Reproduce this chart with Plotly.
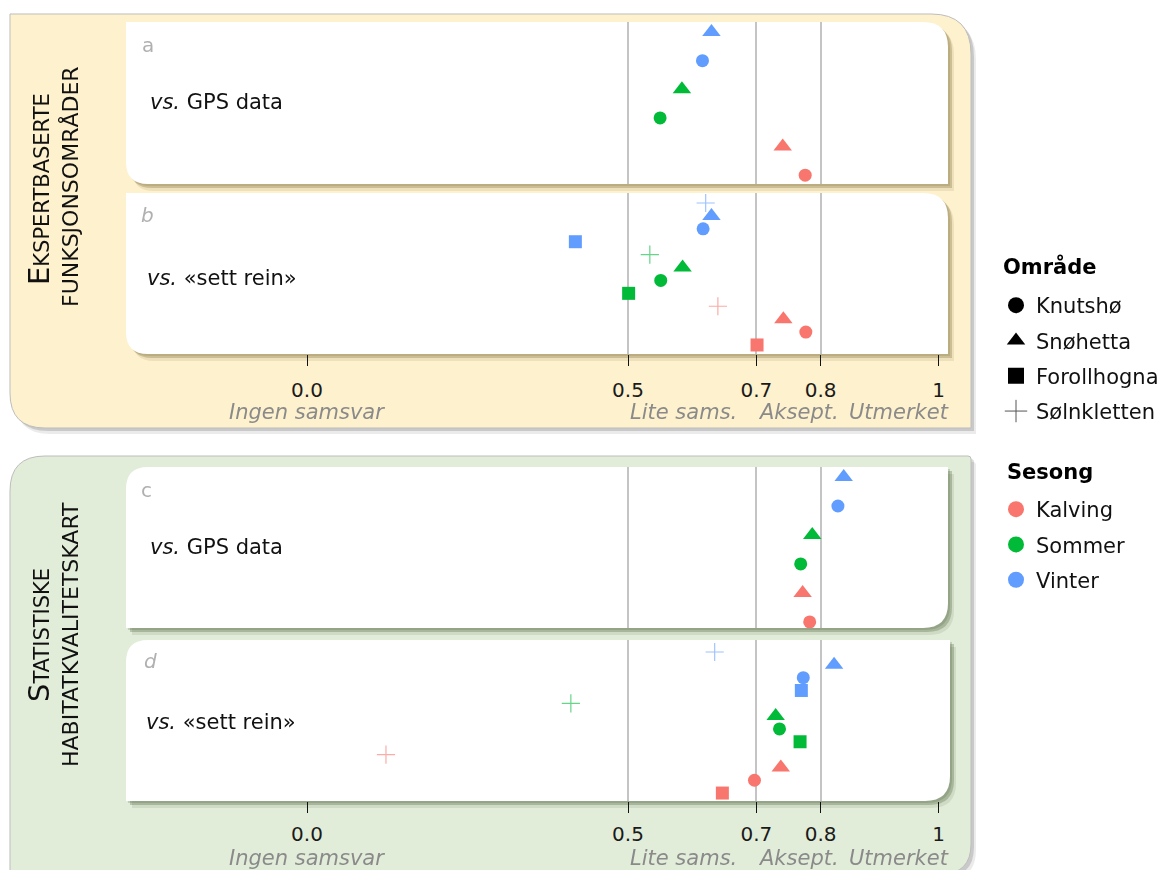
import plotly.graph_objects as go

W, H = 1172, 870

# ---------------- data ----------------
seasons_6 = ["Vinter", "Vinter", "Sommer", "Sommer", "Kalving", "Kalving"]
areas_6 = ["Snøhetta", "Knutshø", "Snøhetta", "Knutshø", "Snøhetta", "Knutshø"]

seasons_12 = ["Vinter", "Vinter", "Vinter", "Vinter",
              "Sommer", "Sommer", "Sommer", "Sommer",
              "Kalving", "Kalving", "Kalving", "Kalving"]
areas_12 = ["Sølnkletten", "Snøhetta", "Knutshø", "Forollhogna",
            "Sølnkletten", "Snøhetta", "Knutshø", "Forollhogna",
            "Sølnkletten", "Snøhetta", "Knutshø", "Forollhogna"]

val_a = [0.630, 0.616, 0.584, 0.550, 0.741, 0.776]
val_b = [0.621, 0.630, 0.617, 0.418, 0.534, 0.585, 0.551, 0.501, 0.640, 0.742, 0.777, 0.701]
val_c = [0.836, 0.827, 0.787, 0.769, 0.772, 0.783]
val_d = [0.635, 0.821, 0.773, 0.770, 0.411, 0.730, 0.736, 0.768, 0.123, 0.738, 0.697, 0.647]

tick_vals = [0, 0.5, 0.7, 0.8, 0.984]
tick_text = ["0.0", "0.5", "0.7", "0.8", "1"]
grid_vals = [0.5, 0.7, 0.8]
class_labels = ["Ingen samsvar", "Lite sams.", "Aksept.", "Utmerket"]
class_pos = [0, 0.5, 0.7, 0.997]

area_order = ["Knutshø", "Snøhetta", "Forollhogna", "Sølnkletten"]
season_order = ["Kalving", "Sommer", "Vinter"]

# ---------------- styles ----------------
FONT = "DejaVu Sans"
season_colors = {"Kalving": "#F8766D", "Sommer": "#00BA38", "Vinter": "#619CFF"}
area_symbols = {"Knutshø": "circle", "Snøhetta": "triangle-up",
                "Forollhogna": "square", "Sølnkletten": "cross-thin"}
area_sizes = {"Knutshø": 13, "Snøhetta": 16, "Forollhogna": 13, "Sølnkletten": 13}


def px(x):
    return x / W


def py(y):
    return 1 - y / H


def rrect(x0, y0, x1, y1, tl, tr, br, bl):
    def P(x, y):
        return f"{px(x):.5f},{py(y):.5f}"
    s = f"M {P(x0 + tl, y0)} L {P(x1 - tr, y0)} Q {P(x1, y0)} {P(x1, y0 + tr)} "
    s += f"L {P(x1, y1 - br)} Q {P(x1, y1)} {P(x1 - br, y1)} "
    s += f"L {P(x0 + bl, y1)} Q {P(x0, y1)} {P(x0, y1 - bl)} "
    s += f"L {P(x0, y0 + tl)} Q {P(x0, y0)} {P(x0 + tl, y0)} Z"
    return s


shapes = []


def add_box(box, fill, line=None, shadows=()):
    x0, y0, x1, y1, tl, tr, br, bl = box
    for (dx, dy, col) in shadows:
        shapes.append(dict(type="path", xref="paper", yref="paper", layer="below",
                           path=rrect(x0 + dx, y0 + dy, x1 + dx, y1 + dy, tl, tr, br, bl),
                           fillcolor=col, line=dict(width=0)))
    shapes.append(dict(type="path", xref="paper", yref="paper", layer="below",
                       path=rrect(x0, y0, x1, y1, tl, tr, br, bl),
                       fillcolor=fill,
                       line=dict(width=1 if line else 0, color=line or "rgba(0,0,0,0)")))


# group backgrounds
add_box((10, 14, 971, 428, 0, 40, 0, 35), "#FEF1CD", "#BDBDBD",
        shadows=[(5, 6, "rgba(0,0,0,0.08)"), (3, 3, "rgba(0,0,0,0.14)")])
add_box((10, 456, 971, 874, 35, 3, 30, 0), "#E2EDD9", "#BDBDBD",
        shadows=[(5, 6, "rgba(0,0,0,0.08)"), (3, 3, "rgba(0,0,0,0.14)")])

# panel boxes (pixels)
panels = {
    "a": (126, 22, 948, 184, 0, 25, 0, 22),
    "b": (126, 193, 948, 354, 0, 25, 0, 22),
    "c": (126, 467, 948, 628, 22, 0, 25, 0),
    "d": (126, 640, 950, 801, 22, 0, 25, 0),
}
sh_up = [(6, 7, "rgba(120,105,50,0.12)"), (4, 4, "rgba(120,105,50,0.28)"), (2, 2, "rgba(120,105,50,0.20)")]
sh_lo = [(6, 7, "rgba(70,90,50,0.12)"), (4, 4, "rgba(70,90,50,0.28)"), (2, 2, "rgba(70,90,50,0.20)")]
for k in ["a", "b"]:
    add_box(panels[k], "#FFFFFF", None, shadows=sh_up)
for k in ["c", "d"]:
    add_box(panels[k], "#FFFFFF", None, shadows=sh_lo)

# ---------------- traces ----------------
fig = go.Figure()

panel_data = [
    ("a", "x", "y", seasons_6, areas_6, val_a),
    ("b", "x2", "y2", seasons_12, areas_12, val_b),
    ("c", "x3", "y3", seasons_6, areas_6, val_c),
    ("d", "x4", "y4", seasons_12, areas_12, val_d),
]

for key, xa, ya, seas, ars, vals in panel_data:
    rows = list(range(len(vals)))
    for area in area_order:
        idx = [i for i in rows if ars[i] == area]
        if not idx:
            continue
        cols = [season_colors[seas[i]] for i in idx]
        thin = area == "Sølnkletten"
        fig.add_trace(go.Scatter(
            x=[vals[i] for i in idx], y=[rows[i] for i in idx],
            xaxis=xa, yaxis=ya, mode="markers", showlegend=False,
            hoverinfo="skip",
            opacity=0.6 if thin else 1.0,
            marker=dict(symbol=area_symbols[area], size=area_sizes[area],
                        color=cols,
                        line=dict(width=1.2 if thin else 0, color=cols)),
        ))

# legend entries
for i, area in enumerate(area_order):
    thin = area == "Sølnkletten"
    fig.add_trace(go.Scatter(
        x=[None], y=[None], mode="markers", name=area, legend="legend",
        legendgroup="a" + str(i),
        marker=dict(symbol=area_symbols[area], size=16, color="#000000",
                    line=dict(width=1 if thin else 0, color="#555555")),
    ))
for i, s in enumerate(season_order):
    fig.add_trace(go.Scatter(
        x=[None], y=[None], mode="markers", name=s, legend="legend2",
        legendgroup="s" + str(i),
        marker=dict(symbol="circle", size=16, color=season_colors[s]),
    ))

# ---------------- axes ----------------
x_range = [(126 - 307) / 642, (948 - 307) / 642]

y_specs = {
    "a": ((22, 184), [5.31, -0.35]),
    "b": ((193, 354), [11.70, -0.775]),
    "c": ((467, 628), [5.21, -0.345]),
    "d": ((640, 801), [11.62, -0.936]),
}

layout_axes = {}
names = [("a", "xaxis", "yaxis", "y", "x"), ("b", "xaxis2", "yaxis2", "y2", "x2"),
         ("c", "xaxis3", "yaxis3", "y3", "x3"), ("d", "xaxis4", "yaxis4", "y4", "x4")]
for key, xn, yn, yanchor, xanchor in names:
    (top, bot), yr = y_specs[key]
    show = key in ("b", "d")
    layout_axes[xn] = dict(
        domain=[px(126), px(948)], range=x_range, anchor=yanchor,
        showgrid=False, zeroline=False, showline=False,
        tickmode="array", tickvals=tick_vals if show else [],
        ticktext=tick_text if show else [],
        ticks="outside" if show else "", ticklen=11, tickwidth=1.3, tickcolor="#111111",
        showticklabels=show, ticklabelstandoff=7 if key == "b" else 4,
        tickfont=dict(family=FONT, size=20, color="#1a1a1a"),
        minor=dict(tickmode="array", tickvals=grid_vals, showgrid=True,
                   gridcolor="#C4C4C4", gridwidth=1.5, ticks=""),
        fixedrange=True,
    )
    layout_axes[yn] = dict(
        domain=[py(bot), py(top)], range=yr, anchor=xanchor,
        showgrid=False, zeroline=False, showline=False, showticklabels=False,
        ticks="", fixedrange=True,
    )

# ---------------- annotations ----------------
ann = []
GRAY = "#8a8a8a"
letters = [("a", 148, 45, False), ("b", 147, 215, True),
           ("c", 146, 490, False), ("d", 150, 661, True)]
for t, x, y, it in letters:
    ann.append(dict(text=f"<i>{t}</i>" if it else t, x=px(x), y=py(y), xref="paper", yref="paper",
                    xanchor="center", yanchor="middle", showarrow=False,
                    font=dict(family=FONT, size=20, color="#b0b0b0")))

rowlabels = [("<i>vs.</i> GPS data", 148, 102), ("<i>vs.</i> «sett rein»", 145, 278),
             ("<i>vs.</i> GPS data", 148, 547), ("<i>vs.</i> «sett rein»", 144, 722)]
for t, x, y in rowlabels:
    ann.append(dict(text=t, x=px(x), y=py(y), xref="paper", yref="paper",
                    xanchor="left", yanchor="middle", showarrow=False,
                    font=dict(family=FONT, size=21, color="#111111")))

# vertical group titles
vt = [("<span style='font-size:29px'>E</span>KSPERTBASERTE", 39, 189, 21),
      ("FUNKSJONSOMRÅDER", 70, 187, 22),
      ("<span style='font-size:29px'>S</span>TATISTISKE", 39, 635, 21),
      ("HABITATKVALITETSKART", 70, 635, 22)]
for t, x, y, fs in vt:
    ann.append(dict(text=t, x=px(x), y=py(y), xref="paper", yref="paper",
                    xanchor="center", yanchor="middle", showarrow=False, textangle=-90,
                    font=dict(family=FONT, size=fs, color="#111111")))

# classification labels
for xref, ypix in (("x2", 412), ("x4", 858)):
    anchors = ["center", "left", "left", "right"]
    for lab, pos, anc in zip(class_labels, class_pos, anchors):
        ann.append(dict(text=f"<i>{lab}</i>", x=pos, y=py(ypix), xref=xref, yref="paper",
                        xanchor=anc, yanchor="middle", showarrow=False, xshift=4 if anc == "right" else 0,
                        font=dict(family=FONT, size=21, color=GRAY)))

# legend titles
ann.append(dict(text="<b>Område</b>", x=px(1001), y=py(266), xref="paper", yref="paper",
                xanchor="left", yanchor="middle", showarrow=False,
                font=dict(family=FONT, size=21, color="#000000")))
ann.append(dict(text="<b>Sesong</b>", x=px(1005), y=py(472), xref="paper", yref="paper",
                xanchor="left", yanchor="middle", showarrow=False,
                font=dict(family=FONT, size=21, color="#000000")))

fig.update_layout(
    width=W, height=H,
    margin=dict(l=0, r=0, t=0, b=0),
    paper_bgcolor="#FFFFFF", plot_bgcolor="rgba(0,0,0,0)",
    shapes=shapes, annotations=ann,
    font=dict(family=FONT, size=19, color="#111111"),
    legend=dict(x=px(996), y=py(285), xanchor="left", yanchor="top",
                bgcolor="rgba(0,0,0,0)", font=dict(family=FONT, size=21, color="#111111"),
                tracegroupgap=5, itemsizing="trace"),
    legend2=dict(x=px(996), y=py(489), xanchor="left", yanchor="top",
                 bgcolor="rgba(0,0,0,0)", font=dict(family=FONT, size=21, color="#111111"),
                 tracegroupgap=5, itemsizing="trace"),
    showlegend=True,
    **layout_axes,
)

fig.write_html("out.html", config={"displayModeBar": False})
